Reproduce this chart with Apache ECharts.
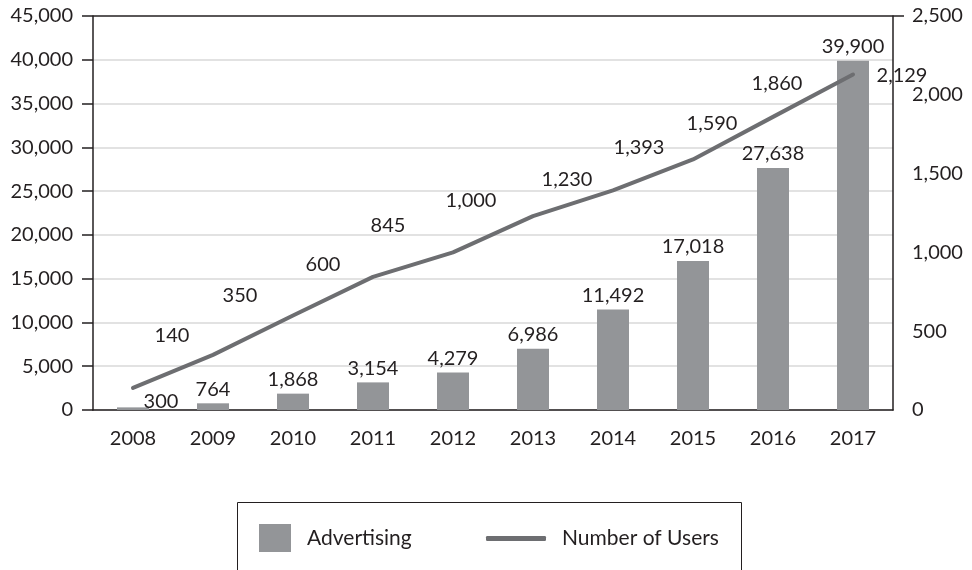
<!DOCTYPE html>
<html>
<head>
<meta charset="utf-8">
<script src="https://cdn.jsdelivr.net/npm/echarts@6/dist/echarts.min.js"></script>
<style>
  html, body { margin: 0; padding: 0; background: #fff; }
  #chart { width: 972px; height: 570px; }
</style>
</head>
<body>
<div id="chart"></div>
<script>
// Yearly advertising revenue (bars, left axis) and number of users (line, right axis)
const years = ['2008', '2009', '2010', '2011', '2012', '2013', '2014', '2015', '2016', '2017'];
const advertising = [300, 764, 1868, 3154, 4279, 6986, 11492, 17018, 27638, 39900];
const users = [140, 350, 600, 845, 1000, 1230, 1393, 1590, 1860, 2129];
const leftTicks = [0, 45000, 5000];   // min, max, interval
const rightTicks = [0, 2500, 500];

// label placement for the user line (dx, dy in px)
const userLabelOffsets = [[39, -52], [27, -59], [30, -51], [15, -51], [18, -52],
                          [34, -37], [26, -43], [19, -36], [4, -33], [49, 1]];
const barLabelOffsets = [[28, 8], [0, 0], [0, 0], [0, 0], [0, 0],
                         [0, 0], [0, 0], [0, 0], [0, 0], [0, 0]];

const FONT = 'Lato, "Open Sans", sans-serif';
const TEXT = '#231f20';
const FS = 20;
const fmt = v => Number(v).toLocaleString('en-US');

const chart = echarts.init(document.getElementById('chart'), null, { renderer: 'canvas' });

const gridColors = [];
for (let v = leftTicks[0]; v <= leftTicks[1]; v += leftTicks[2]) {
  gridColors.push(v === leftTicks[1] ? TEXT : '#d9d9d9');
}

chart.setOption({
  animation: false,
  backgroundColor: '#ffffff',
  textStyle: { fontFamily: FONT, color: TEXT },
  grid: { left: 93, right: 79, top: 16, height: 394 },
  xAxis: {
    type: 'category',
    data: years,
    axisLine: { lineStyle: { color: TEXT, width: 1.5 } },
    axisTick: { show: false },
    axisLabel: { color: TEXT, fontSize: FS, fontFamily: FONT, margin: 19 }
  },
  yAxis: [
    {
      type: 'value',
      min: leftTicks[0], max: leftTicks[1], interval: leftTicks[2],
      axisLine: { show: true, lineStyle: { color: TEXT, width: 1.5 } },
      axisTick: { show: true, length: 11, lineStyle: { color: TEXT, width: 1.5 } },
      axisLabel: { color: TEXT, fontSize: FS, fontFamily: FONT, margin: 20, formatter: fmt },
      splitLine: { show: true, lineStyle: { color: gridColors, width: 1.5 } }
    },
    {
      type: 'value',
      min: rightTicks[0], max: rightTicks[1], interval: rightTicks[2],
      axisLine: { show: true, lineStyle: { color: TEXT, width: 1.5 } },
      axisTick: { show: false },
      axisLabel: { color: TEXT, fontSize: FS, fontFamily: FONT, margin: 19, formatter: fmt },
      splitLine: { show: false }
    }
  ],
  legend: [
    {
      data: [{ name: 'Advertising', icon: 'rect' }],
      left: 259, top: 524,
      itemWidth: 32, itemHeight: 28, itemGap: 0,
      textStyle: { fontSize: 21, color: TEXT, fontFamily: FONT, padding: [0, 0, 0, 11] },
      padding: 0
    },
    {
      data: [{ name: 'Number of Users', icon: 'roundRect' }],
      left: 486, top: 528,
      itemWidth: 60, itemHeight: 5, itemGap: 0,
      textStyle: { fontSize: 21, color: TEXT, fontFamily: FONT, padding: [0, 0, 0, 11] },
      padding: 0
    }
  ],
  graphic: [
    {
      type: 'rect',
      shape: { x: 237.5, y: 502.5, width: 504, height: 90 },
      style: { fill: 'none', stroke: TEXT, lineWidth: 1 },
      silent: true
    },
    {
      type: 'line',
      shape: { x1: 893, y1: 16, x2: 904, y2: 16 },
      style: { stroke: TEXT, lineWidth: 1.5 },
      silent: true
    }
  ],
  series: [
    {
      name: 'Advertising',
      type: 'bar',
      yAxisIndex: 0,
      barWidth: 32,
      itemStyle: { color: '#939598' },
      label: {
        show: true, position: 'top', distance: 4,
        color: TEXT, fontSize: FS, fontFamily: FONT,
        formatter: p => fmt(p.value)
      },
      data: advertising.map((v, i) => ({
        value: v,
        label: { offset: barLabelOffsets[i] }
      }))
    },
    {
      name: 'Number of Users',
      type: 'line',
      yAxisIndex: 1,
      symbol: 'circle',
      symbolSize: 1,
      showSymbol: true,
      itemStyle: { color: '#6d6e71' },
      lineStyle: { color: '#6d6e71', width: 4, cap: 'round', join: 'round' },
      label: {
        show: true, position: 'inside',
        color: TEXT, fontSize: FS, fontFamily: FONT,
        formatter: p => fmt(p.value)
      },
      z: 3,
      data: users.map((v, i) => ({
        value: v,
        label: { offset: userLabelOffsets[i] }
      }))
    }
  ]
});
</script>
</body>
</html>
